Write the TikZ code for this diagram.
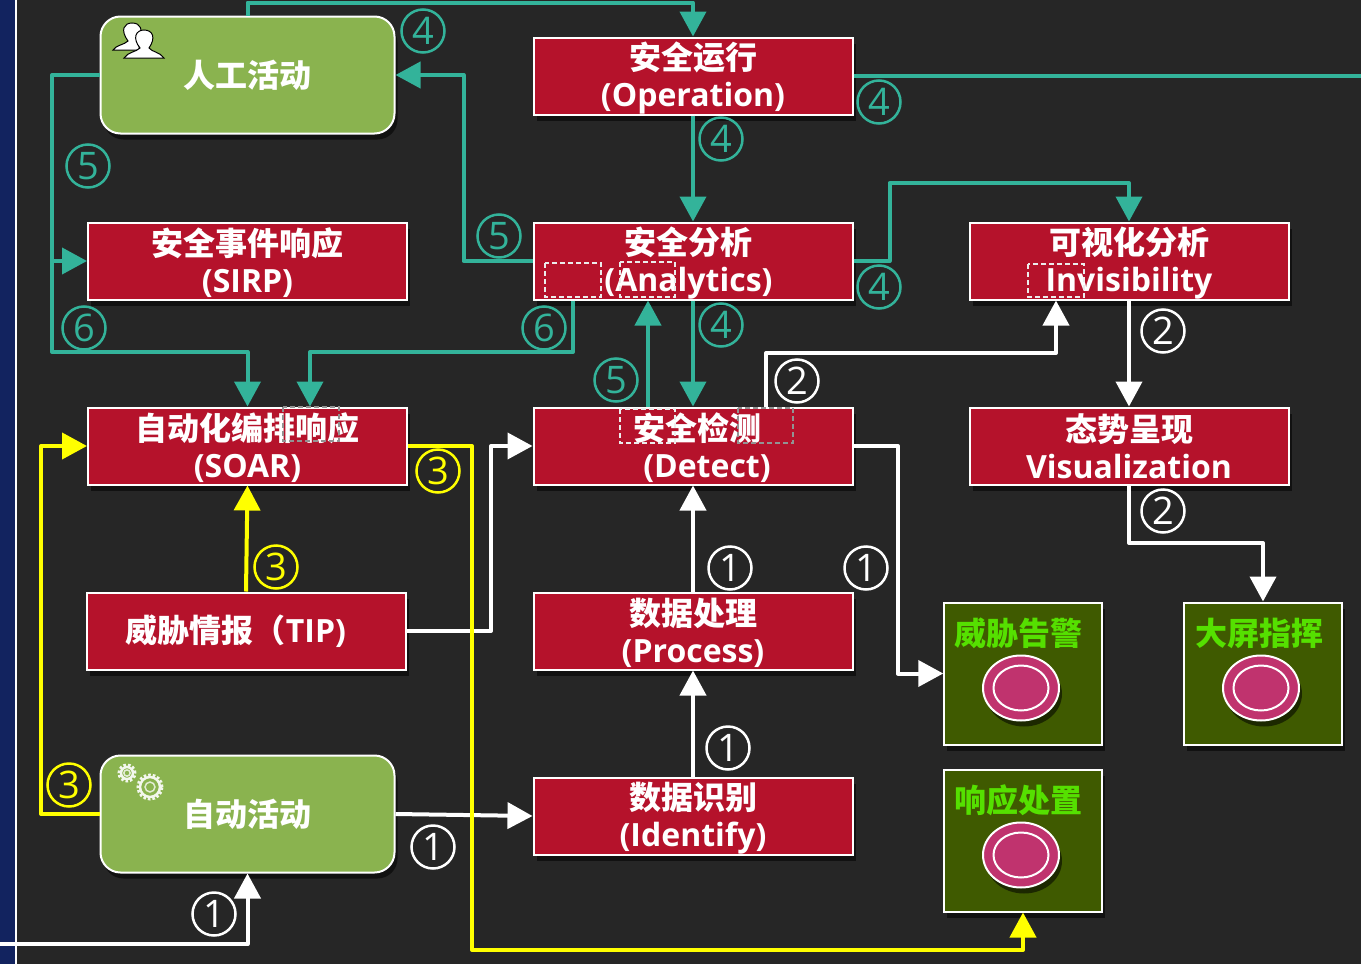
\documentclass[tikz,border=0pt]{standalone}
\usepackage{fontspec}
\setmainfont{Noto Sans CJK SC}
\newfontfamily\numfont{Open Sans}
\usetikzlibrary{arrows.meta,shadows,positioning}
\usetikzlibrary{shapes.geometric}
\definecolor{bgc}{HTML}{262626}
\definecolor{navy}{HTML}{12235F}
\definecolor{redc}{HTML}{B5122B}
\definecolor{leaf}{HTML}{8AB34F}
\definecolor{olive}{HTML}{3F5A00}
\definecolor{lime}{HTML}{55E000}
\definecolor{tealc}{HTML}{33B39A}
\definecolor{rosec}{HTML}{C0336E}
\definecolor{yel}{HTML}{FFFF00}
\newcommand{\lat}[1]{{\numfont\bfseries #1}}
\tikzset{
  shad/.style={drop shadow={shadow xshift=3pt,shadow yshift=-6pt,fill=black,opacity=.55}},
  phasebox/.style={rectangle,draw=white,line width=2pt,fill=redc,shad,minimum width=319pt,minimum height=77pt,
    inner xsep=0pt,inner ysep=-2pt,align=center,text=white,font=\fontsize{32}{37}\selectfont\bfseries},
  phase/.style={phasebox,execute at begin node={\rule{0pt}{69pt}}},
  activity/.style={rectangle,rounded corners=20pt,draw=white,line width=2pt,fill=leaf,shad,minimum width=294pt,
    minimum height=117pt,inner sep=0pt,text=white,font=\fontsize{32}{37}\selectfont\bfseries},
  result/.style={rectangle,draw=white,line width=2pt,fill=olive,shad,minimum width=157.5pt,minimum height=142pt},
  restext/.style={text=lime,inner sep=0pt,font=\fontsize{32}{37}\selectfont\bfseries},
  bell/.style={ellipse,draw=white,line width=2pt,fill=rosec,shad,minimum width=76pt,minimum height=65pt,inner sep=0pt},
  bellin/.style={ellipse,draw=white,line width=2pt,minimum width=55pt,minimum height=45pt,inner sep=0pt},
  num/.style={circle,draw=#1,text=#1,line width=2.5pt,minimum size=43pt,inner sep=0pt,font=\numfont\fontsize{38}{38}\selectfont},
  hole/.style={draw=white!85!gray,line width=2pt,dash pattern=on 5pt off 3pt},
  teal/.style={draw=tealc,line width=4pt,arrows={-{Triangle[length=25pt,width=26pt]}},line join=round},
  tealp/.style={draw=tealc,line width=4pt,line join=round},
  whi/.style={draw=white,line width=4pt,arrows={-{Triangle[length=25pt,width=26pt]}},line join=round},
  yell/.style={draw=yel,line width=4pt,arrows={-{Triangle[length=25pt,width=26pt]}},line join=round},
}
\begin{document}
\begin{tikzpicture}[x=1pt,y=-1pt,node distance=185pt]

\useasboundingbox (0,0) rectangle (1361,964);
\fill[bgc] (0,0) rectangle (1361,964);
\fill[navy] (0,0) rectangle (15,964);
\draw[white,line width=2pt] (16,0) -- (16,964);

% middle column
\node[phase] (op) at (693,76) {安全运行\\\lat{(Operation)}};
\node[phase] (ana) [below of=op] {\hspace*{-9pt}安全分析\\\hspace*{-9pt}\lat{(Analytics)}};
\node[phase] (det) [below of=ana] {\hspace*{8pt}安全检测\\\hspace*{28pt}\lat{(Detect)}};
\node[phase] (proc) [below of=det] {数据处理\\\lat{(Process)}};
\node[phase] (iden) [below of=proc] {数据识别\\\lat{(Identify)}};

% left column
\node[phase] (sirp) at (247.5,261) {安全事件响应\\\lat{(SIRP)}};
\node[phase] (soar) [below of=sirp] {自动化编排响应\\\lat{(SOAR)}};
\node[phasebox,xshift=-1.5pt] (tip) [below of=soar] {\hspace*{-20pt}威胁情报（\lat{TIP)}};
\node[activity] (hum) at (247.5,75) {人工活动};
\node[activity] (aut) at (247.5,814) {自动活动};

% right column
\node[phase] (inv) at (1129,261) {可视化分析\\\lat{Invisibility}};
\node[phasebox] (vis) [below of=inv] {态势呈现\\\lat{Visualization}};

% results
\node[result] (alert) at (1023,673.5) {};
\node[result] (screen) at (1263,673.5) {};
\node[result] (resp) at (1023,840.5) {};
\node[restext] (alertt) at (1018,633) {威胁告警};
\node[restext] (screent) at (1259,633) {大屏指挥};
\node[restext] (respt) at (1018,800) {响应处置};
\foreach \n/\x/\y in {a/1021/688,b/1261/688,c/1021/855}{
  \node[bell] (bell\n) at (\x,\y) {};
  \node[bellin] (in\n) at (\x,\y) {};
}

% teal
\path[teal] (hum.north) -- ++(0,-13) -| (op.north);
\path[tealp] (op.east) -- (1361,76);
\path[teal] (op) -- (ana);
\path[teal] (ana.west) -- ++(-69,0) |- (hum.east);
\path[teal] (ana.east) -- ++(36,0) |- (1129,183) -- (inv.north);
\path[tealp] (hum.west) -- (52,75) -- (52,261);
\path[teal] (52,261) -- (sirp.west);
\path[teal] (52,261) -- (52,352) -| (soar.north);
\path[teal] ([xshift=-120pt]ana.south) |- (310,352) -- ([xshift=62.5pt]soar.north);
\path[teal] ([xshift=-45pt]det.north) -- ([xshift=-45pt]ana.south);
\path[teal] (ana) -- (det);

% white
\path[whi] ([xshift=73pt]det.north) |- (1056,353) -- ([xshift=-73pt]inv.south);
\path[whi] (inv) -- (vis);
\path[whi] (vis.south) |- (1263,543) -- (screen.north);
\path[whi] (det.east) -- (898,446) |- (alert.west);
\path[whi] (proc) -- (det);
\path[whi] (iden) -- (proc);
\path[whi] (aut.east) -- (iden.west);
\path[whi] (tip.east) -- (491,631) |- (det.west);
\path[whi] (0,944) -| (aut.south);

% yellow
\path[yell] (tip.north) -- (soar.south);
\path[yell] (aut.west) -- (41,814) |- (soar.west);
\path[yell] (soar.east) -- (472,446) |- (1023,950) -- (resp.south);

% dashed boxes
\draw[hole] (545,263) rectangle (601,297);
\draw[hole] (620,262) rectangle (675,297);
\draw[hole] (620,409) rectangle (675,443);
\draw[hole,draw=gray!85] (738,408) rectangle (793,443);
\draw[hole] (1028,264) rectangle (1084,297);
\draw[hole,draw=gray!85] (283,407) rectangle (339,441);

% numbers
\foreach \x/\y/\t in {423/31/4,879/102/4,721/139/4,879/287/4,721/325/4,88/166/5,499/236/5,616/380/5,84/328/6,544/328/6}
  \node[num=tealc] (t\x) at (\x,\y) {\t};
\foreach \x/\y/\t in {438/471/3,276/567/3,69/785/3}
  \node[num=yel] (y\x) at (\x,\y) {\t};
\foreach \x/\y/\t in {797/381/2,1163/331/2,1163/511/2,730/568/1,866/568/1,728/748/1,433/847/1,214/914/1}
  \node[num=white] (w\x\y) at (\x,\y) {\t};

% people icon
\draw[black,fill=white,line width=1pt] (113,50) .. controls (116,45) and (124,45) .. (128,41) .. controls (120,30) and (124,23) .. (132,23) .. controls (141,23) and (143,30) .. (139,38) -- (139,50) -- cycle;
\draw[black,fill=white,line width=1pt] (124,58) .. controls (128,52) and (136,52) .. (140,48) .. controls (132,38) and (136,30) .. (144,30) .. controls (153,30) and (156,38) .. (149,48) .. controls (152,52) and (160,52) .. (164,58) -- cycle;

% gears
\foreach \x/\y/\r in {127/773/7,150/787/11}{
  \draw[white!90!leaf,line width=3pt,dash pattern=on 2.5pt off 2pt] (\x,\y) circle (\r pt+1pt);
  \draw[white!90!leaf,line width=2.5pt] (\x,\y) circle (\r pt-1pt);
  \draw[white!75!leaf,line width=1.5pt] (\x,\y) circle (\r pt*0.45);
}

\end{tikzpicture}
\end{document}
